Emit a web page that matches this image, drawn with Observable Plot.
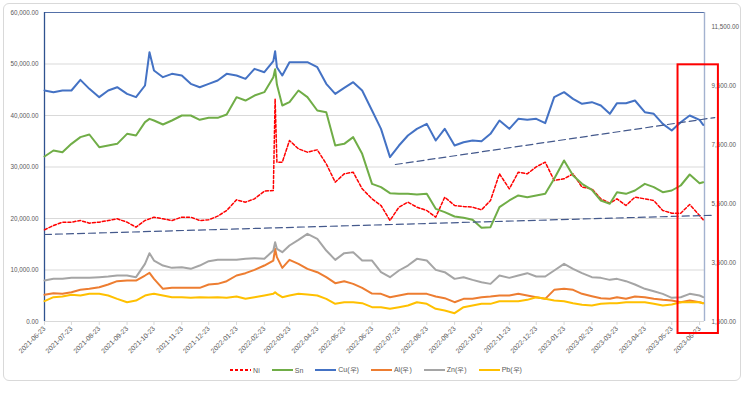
<!DOCTYPE html>
<html><head><meta charset="utf-8">
<script src="https://cdn.jsdelivr.net/npm/d3@7"></script>
<script src="https://cdn.jsdelivr.net/npm/@observablehq/plot@0.6"></script>
<style>
body{margin:0;background:#fff;font-family:"Liberation Sans",Arial,sans-serif;}
#wrap{position:relative;width:743px;height:394px;}
#frame{position:absolute;left:3px;top:3px;width:736px;height:376px;border:1px solid #D9D9D9;border-radius:6px;pointer-events:none;}
#legend{display:flex;justify-content:center;gap:12px;font-size:7px;color:#595959;height:24px;align-items:center;padding-left:9px;}
.item{display:flex;align-items:center;gap:2px;}
</style></head><body>
<div id="wrap"><div id="chart"></div><div id="legend"></div><div id="frame"></div></div>
<script>
const dates = ["2021-06-23","2021-07-03","2021-07-13","2021-07-23","2021-08-02","2021-08-12","2021-08-23","2021-09-02","2021-09-12","2021-09-23","2021-10-03","2021-10-13","2021-10-18","2021-10-23","2021-11-02","2021-11-12","2021-11-23","2021-12-03","2021-12-13","2021-12-23","2022-01-02","2022-01-12","2022-01-23","2022-02-02","2022-02-12","2022-02-23","2022-03-05","2022-03-07","2022-03-09","2022-03-15","2022-03-23","2022-04-02","2022-04-12","2022-04-23","2022-05-03","2022-05-13","2022-05-23","2022-06-02","2022-06-12","2022-06-23","2022-07-03","2022-07-13","2022-07-23","2022-08-02","2022-08-12","2022-08-23","2022-09-02","2022-09-12","2022-09-23","2022-10-03","2022-10-13","2022-10-23","2022-11-02","2022-11-12","2022-11-23","2022-12-03","2022-12-13","2022-12-23","2023-01-02","2023-01-12","2023-01-23","2023-02-02","2023-02-12","2023-02-23","2023-03-05","2023-03-15","2023-03-23","2023-04-02","2023-04-12","2023-04-23","2023-05-03","2023-05-13","2023-05-23","2023-06-02","2023-06-12","2023-06-23","2023-06-27"];
const ni = [17800,18642,19289,19289,19613,19095,19289,19613,19936,19289,18318,19613,19936,20260,19936,19613,20260,20260,19613,19742,20454,21554,23625,23172,23819,25308,25437,43235,30939,30939,35145,33527,32880,33333,30615,27055,28673,28997,25761,23819,22525,19613,22201,23172,22201,21554,20260,24143,22525,22331,22201,21684,23496,28673,25761,28997,28673,30033,30939,27379,27703,28673,26085,25761,23819,22978,23819,22525,24143,23819,23496,21554,21036,21036,22719,20583,19742];
const sn = [32039,33204,32880,34498,35793,36310,33851,34175,34498,36440,36116,38705,39352,39029,38252,39029,39999,39999,39158,39546,39546,40194,43559,42912,43883,44530,47442,49000,46000,41941,42588,44853,43559,40970,40647,34175,34498,35793,32557,26732,26085,24920,24790,24790,24661,24790,21878,21231,20389,20130,19742,18189,18318,22201,23496,24467,24143,24467,24790,27703,31262,28350,26732,25567,23496,22849,25114,24790,25437,26732,26085,25114,25437,26408,28544,26861,27055];
const cu = [9349,9293,9349,9349,9712,9406,9123,9349,9462,9236,9123,9519,10652,10029,9802,9915,9859,9576,9462,9576,9689,9915,9859,9746,10085,9972,10346,10686,10142,9859,10312,10312,10312,10142,9576,9236,9440,9632,9349,8670,8047,7084,7480,7820,8047,8216,7650,8047,7480,7593,7650,7627,7877,8330,8047,8386,8352,8386,8239,9123,9293,9066,8896,8953,8839,8556,8919,8919,9009,8613,8556,8216,7990,8273,8500,8352,8182];
const al = [2406,2462,2440,2496,2576,2610,2666,2757,2870,2893,2893,3063,3153,2949,2610,2644,2644,2644,2644,2757,2779,2870,3063,3142,3255,3402,3572,3969,3686,3323,3595,3459,3289,3176,3006,2802,2870,2779,2644,2451,2440,2326,2383,2440,2440,2440,2349,2292,2156,2270,2270,2326,2349,2383,2383,2440,2383,2326,2270,2576,2610,2576,2440,2360,2292,2270,2326,2270,2349,2326,2270,2236,2213,2156,2213,2156,2123];
const zn = [2893,2949,2949,2983,2983,2983,3006,3029,3063,3063,3006,3459,3822,3572,3402,3323,3346,3289,3402,3550,3595,3595,3595,3629,3652,3629,3912,4195,3969,3856,4082,4275,4479,4309,3912,3595,3822,3856,3572,3572,3176,3006,3233,3402,3629,3572,3255,3176,2949,3006,2915,2836,2779,3063,2983,3063,3142,3029,3029,3233,3459,3289,3142,3006,2983,2915,2949,2870,2757,2610,2530,2440,2304,2326,2440,2383,2326];
const pb = [2190,2326,2349,2406,2383,2440,2440,2383,2270,2156,2213,2383,2417,2440,2383,2326,2326,2304,2326,2315,2326,2304,2349,2270,2326,2383,2440,2496,2440,2326,2383,2440,2417,2383,2270,2100,2156,2156,2123,1987,1987,1930,1987,2043,2156,2100,1930,1873,1783,1987,2043,2100,2100,2190,2190,2190,2236,2326,2270,2213,2190,2123,2066,2043,2100,2123,2123,2156,2156,2156,2100,2043,2077,2156,2156,2156,2123];

const seriesNames = ["Ni","Sn","Cu(우)","Al(우)","Zn(우)","Pb(우)"];
const seriesColors = ["#FF0000","#70AD47","#4472C4","#ED7D31","#A5A5A5","#FFC000"];
const seriesAxis = ["left","left","right","right","right","right"];
const seriesValues = [ni, sn, cu, al, zn, pb];

const leftTicks = [0,10000,20000,30000,40000,50000,60000];
const rightTicks = [1500,3500,5500,7500,9500,11500];
const tickDates = ["2021-06-23","2021-07-23","2021-08-23","2021-09-23","2021-10-23","2021-11-23","2021-12-23","2022-01-23","2022-02-23","2022-03-23","2022-04-23","2022-05-23","2022-06-23","2022-07-23","2022-08-23","2022-09-23","2022-10-23","2022-11-23","2022-12-23","2023-01-23","2023-02-23","2023-03-23","2023-04-23","2023-05-23","2023-06-23"];

// dashed trend lines
const trendLowDates = ["2021-06-23","2023-07-09"];
const trendLowValues = [16890, 20640];      // left axis
const trendHighDates = ["2022-07-19","2023-07-10"];
const trendHighValues = [6835, 8430];       // right axis
// red highlight box
const boxDates = ["2023-05-30","2023-07-14"];
const boxValues = [-2330, 49840];           // left axis units

const parse = d3.utcParse("%Y-%m-%d");
const R0 = 1500, R1 = 12000, L1 = 60000;
const toLeft = v => (v - R0) / (R1 - R0) * L1;
const toRight = v => v / L1 * (R1 - R0) + R0;
const fmt = d3.format(",.2f");
const xStart = parse("2021-06-23");
const xEnd = new Date(Date.UTC(2023, 5, 28, 12));

const lineMarks = seriesNames.map((name, si) => {
  const rows = dates.map((d, i) => ({
    date: parse(d),
    y: seriesAxis[si] === "left" ? seriesValues[si][i] : toLeft(seriesValues[si][i])
  }));
  return Plot.line(rows, {
    x: "date", y: "y", stroke: seriesColors[si],
    strokeWidth: name === "Ni" ? 1.5 : 2,
    strokeDasharray: name === "Ni" ? "3,2" : null,
    strokeLinejoin: "round"
  });
});

const trendLow = trendLowDates.map((d, i) => ({date: parse(d), y: trendLowValues[i]}));
const trendHigh = trendHighDates.map((d, i) => ({date: parse(d), y: toLeft(trendHighValues[i])}));
const box = [{x1: parse(boxDates[0]), x2: parse(boxDates[1]), y1: boxValues[0], y2: boxValues[1]}];

const chart = Plot.plot({
  width: 743, height: 358,
  marginTop: 12, marginBottom: 37, marginLeft: 44, marginRight: 39,
  style: {fontFamily: "Liberation Sans, Arial, sans-serif", color: "#595959", background: "transparent"},
  x: {type: "utc", domain: [xStart, xEnd]},
  y: {domain: [0, 60000]},
  marks: [
    Plot.gridY(leftTicks, {stroke: "#D9D9D9", strokeOpacity: 1}),
    Plot.axisY(leftTicks, {anchor: "left", tickSize: 0, tickPadding: 6, tickFormat: fmt, fontSize: 6.3, fill: "#595959", label: null}),
    Plot.axisY(rightTicks.map(toLeft), {anchor: "right", tickSize: 0, tickPadding: 7, tickFormat: v => fmt(Math.round(toRight(v))), fontSize: 6.3, fill: "#595959", label: null}),
    Plot.axisX(tickDates.map(parse), {anchor: "bottom", tickSize: 4, tickPadding: 2, tickRotate: -45, tickFormat: d3.utcFormat("%Y-%m-%d"), fontSize: 6.8, stroke: "#D9D9D9", fill: "#595959", label: null}),
    Plot.ruleY([60000], {x1: xStart, x2: xEnd, stroke: "#5470A8", strokeWidth: 1.2}),
    Plot.ruleX([xStart], {y1: 0, y2: 60000, stroke: "#2F528F", strokeWidth: 1.3}),
    Plot.ruleX([xEnd], {y1: 0, y2: 60000, stroke: "#A3B2CF", strokeWidth: 1.4}),
    ...lineMarks,
    Plot.line(trendLow, {x: "date", y: "y", stroke: "#44598C", strokeWidth: 1.2, strokeDasharray: "7,4"}),
    Plot.line(trendHigh, {x: "date", y: "y", stroke: "#44598C", strokeWidth: 1.2, strokeDasharray: "7,4"}),
    Plot.rect(box, {x1: "x1", x2: "x2", y1: "y1", y2: "y2", fill: "none", stroke: "#FF0000", strokeWidth: 2})
  ]
});
document.getElementById("chart").appendChild(chart);

const legend = document.getElementById("legend");
seriesNames.forEach((name, i) => {
  const item = document.createElement("div");
  item.className = "item";
  const dash = name === "Ni" ? 'stroke-dasharray="3,2"' : "";
  item.innerHTML = `<svg width="21" height="4"><line x1="0" y1="2" x2="21" y2="2" stroke="${seriesColors[i]}" stroke-width="2" ${dash}/></svg><span>${name}</span>`;
  legend.appendChild(item);
});
</script>
</body></html>
